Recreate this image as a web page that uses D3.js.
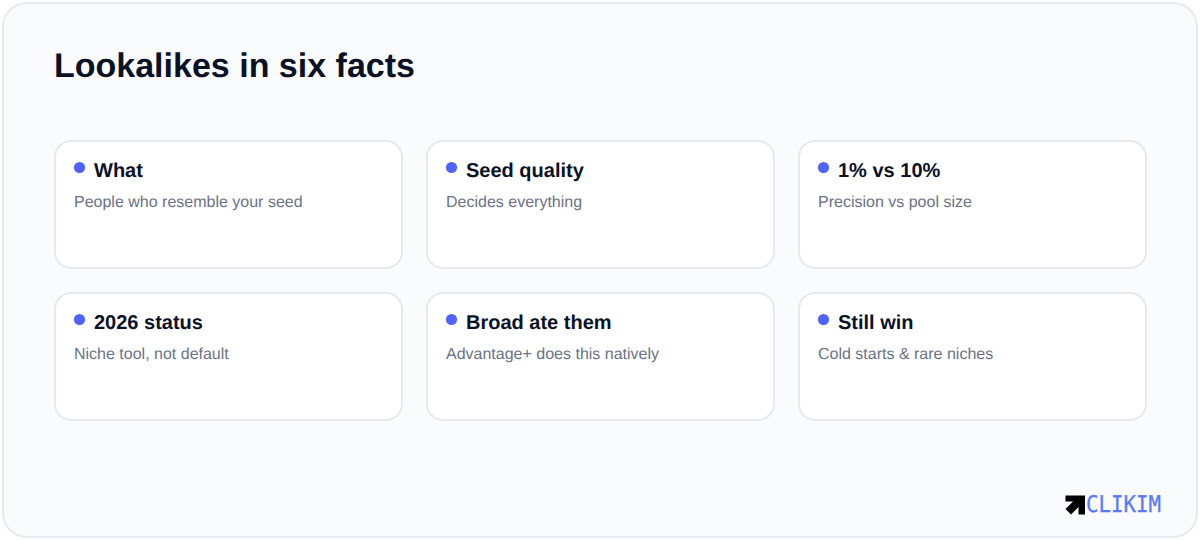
<!DOCTYPE html>
<html>
<head>
<meta charset="utf-8">
<script src="https://cdn.jsdelivr.net/npm/d3@7"></script>
<style>
  html, body { margin: 0; padding: 0; background: #fff; }
  svg { display: block; }
  text { font-family: "Liberation Sans", Arial, sans-serif; text-rendering: geometricPrecision; }
</style>
</head>
<body>
<svg id="chart" width="1200" height="540"></svg>
<script>
const chartTitle = "Lookalikes in six facts";
const headings = ["What", "Seed quality", "1% vs 10%", "2026 status", "Broad ate them", "Still win"];
const details = [
  "People who resemble your seed",
  "Decides everything",
  "Precision vs pool size",
  "Niche tool, not default",
  "Advantage+ does this natively",
  "Cold starts & rare niches"
];
const columns = [0, 1, 2];
const rows = [0, 1];
const brand = "CLIKIM";

const svg = d3.select("#chart");

// background panel
svg.append("rect")
  .attr("x", 3).attr("y", 3)
  .attr("width", 1194).attr("height", 534)
  .attr("rx", 24)
  .attr("fill", "#fafbfd")
  .attr("stroke", "#e7e9f1")
  .attr("stroke-width", 2);

svg.append("text")
  .attr("x", 54).attr("y", 77)
  .attr("font-size", 34)
  .attr("font-weight", 700)
  .attr("fill", "#0b1226")
  .text(chartTitle);

// card grid, 372 and 152 px steps
const x = d3.scaleBand().domain(columns).range([42.5, 1158.5]).paddingInner(25 / 372).paddingOuter(12.5 / 372);
const y = d3.scaleBand().domain(rows).range([128.5, 432.5]).paddingInner(25 / 152).paddingOuter(12.5 / 152);

const card = svg.selectAll("g.card")
  .data(headings.map((h, i) => ({ h, d: details[i], col: i % columns.length, row: Math.floor(i / columns.length) })))
  .enter().append("g")
  .attr("class", "card")
  .attr("transform", d => `translate(${x(d.col)},${y(d.row)})`);

card.append("rect")
  .attr("width", x.bandwidth())
  .attr("height", y.bandwidth())
  .attr("rx", 16)
  .attr("fill", "#ffffff")
  .attr("stroke", "#e7e9f1")
  .attr("stroke-width", 2);

card.append("circle")
  .attr("cx", 24.5).attr("cy", 26.5)
  .attr("r", 5.6)
  .attr("fill", "#4f63ff");

card.append("text")
  .attr("x", 39).attr("y", 36)
  .attr("font-size", 20)
  .attr("font-weight", 700)
  .attr("fill", "#0b1226")
  .text(d => d.h);

card.append("text")
  .attr("x", 19).attr("y", 66)
  .attr("font-size", 16)
  .attr("fill", "#6b7287")
  .text(d => d.d);

// logo
const logo = svg.append("g").attr("transform", "translate(1065.5,495.5)");
logo.append("path")
  .attr("d", "M0,0H19.5V19H13V11.5L5.5,19L0,13.5L7.5,6H0Z")
  .attr("fill", "#000");
logo.append("text")
  .attr("x", 20.5).attr("y", 16.5)
  .attr("font-size", 23)
  .attr("textLength", 75)
  .attr("lengthAdjust", "spacingAndGlyphs")
  .style("font-family", "'DejaVu Sans Mono', monospace")
  .attr("fill", "#5a78ff")
  .attr("stroke", "#5a78ff")
  .attr("stroke-width", 0.3)
  .text(brand);
</script>
</body>
</html>
